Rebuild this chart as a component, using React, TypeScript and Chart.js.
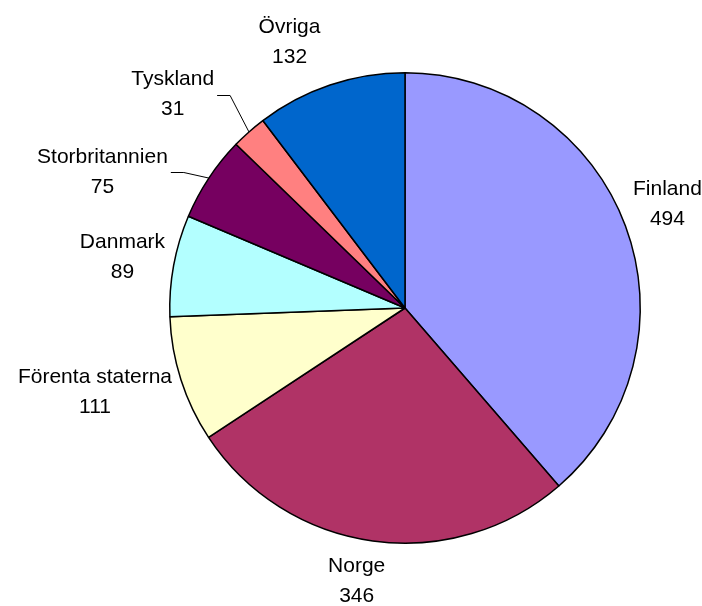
import React, { useEffect, useRef } from "react";
import { Chart, registerables } from "chart.js";

Chart.register(...registerables);

const categories = ["Finland", "Norge", "Förenta staterna", "Danmark", "Storbritannien", "Tyskland", "Övriga"];
const values = [494, 346, 111, 89, 75, 31, 132];
const sliceColors = ["#9999FF", "#B03366", "#FFFFCC", "#B3FFFF", "#760060", "#FF8080", "#0066CC"];

// label layout (Excel-like placement): angular nudge in degrees, radial gap in px, leader line flag
const labelNudge = [-1.9, 2.2, 0.4, 0.6, -6.5, -4.5, -4.6];
const labelGap = [14, 12, 12.5, 10, 39, 46, 27];
const labelLeader = [false, false, false, false, true, true, false];

const FONT = '21px "Liberation Sans", Arial, sans-serif';

const pieLabels = {
  id: "pieLabels",
  afterDatasetsDraw(chart: any) {
    const ctx = chart.ctx;
    const meta = chart.getDatasetMeta(0);
    ctx.save();
    ctx.font = FONT;
    ctx.fillStyle = "#000";
    ctx.strokeStyle = "#000";
    ctx.lineWidth = 1;
    meta.data.forEach((arc: any, i: number) => {
      const p = arc.getProps(["x", "y", "startAngle", "endAngle", "outerRadius"], true);
      const mid = (p.startAngle + p.endAngle) / 2;
      const a = mid + (labelNudge[i] * Math.PI) / 180;
      const r = p.outerRadius + labelGap[i];
      const ax = p.x + r * Math.cos(a);
      const ay = p.y + r * Math.sin(a);
      const line1 = categories[i];
      const line2 = String(values[i]);
      const w = Math.max(ctx.measureText(line1).width, ctx.measureText(line2).width);
      const h = 58;
      const cx = ax + Math.cos(a) * (w / 2);
      const cy = ay + Math.sin(a) * (h / 2);
      ctx.textAlign = "center";
      ctx.textBaseline = "alphabetic";
      ctx.fillText(line1, cx, cy - 15 + 7.5);
      ctx.fillText(line2, cx, cy + 15 + 7.5);
      if (labelLeader[i]) {
        const ex = p.x + p.outerRadius * Math.cos(mid);
        const ey = p.y + p.outerRadius * Math.sin(mid);
        const left = Math.cos(a) < 0;
        const sx = left ? cx + w / 2 + 3 : cx - w / 2 - 3;
        const kx = left ? sx + 13 : sx - 13;
        const ly = Math.round(cy + 2) + 0.5;
        ctx.beginPath();
        ctx.moveTo(sx, ly);
        ctx.lineTo(kx, ly);
        ctx.lineTo(ex, ey);
        ctx.stroke();
      }
    });
    ctx.restore();
  },
};

export default function App() {
  const ref = useRef<HTMLCanvasElement | null>(null);
  useEffect(() => {
    if (!ref.current) return;
    const chart = new Chart(ref.current, {
      type: "pie",
      data: {
        labels: categories,
        datasets: [
          {
            data: values,
            backgroundColor: sliceColors,
            borderColor: "#000",
            borderWidth: 1.5,
          },
        ],
      },
      options: {
        responsive: false,
        animation: false,
        devicePixelRatio: 1,
        layout: { padding: { left: 169, top: 72, right: 61, bottom: 62 } },
        plugins: {
          legend: { display: false },
          tooltip: { enabled: false },
        },
      },
      plugins: [pieLabels],
    });
    return () => chart.destroy();
  }, []);
  return (
    <div style={{ position: "fixed", left: 0, top: 0, width: 702, height: 606, background: "#fff" }}>
      <canvas ref={ref} width={702} height={606} style={{ display: "block" }} />
    </div>
  );
}
